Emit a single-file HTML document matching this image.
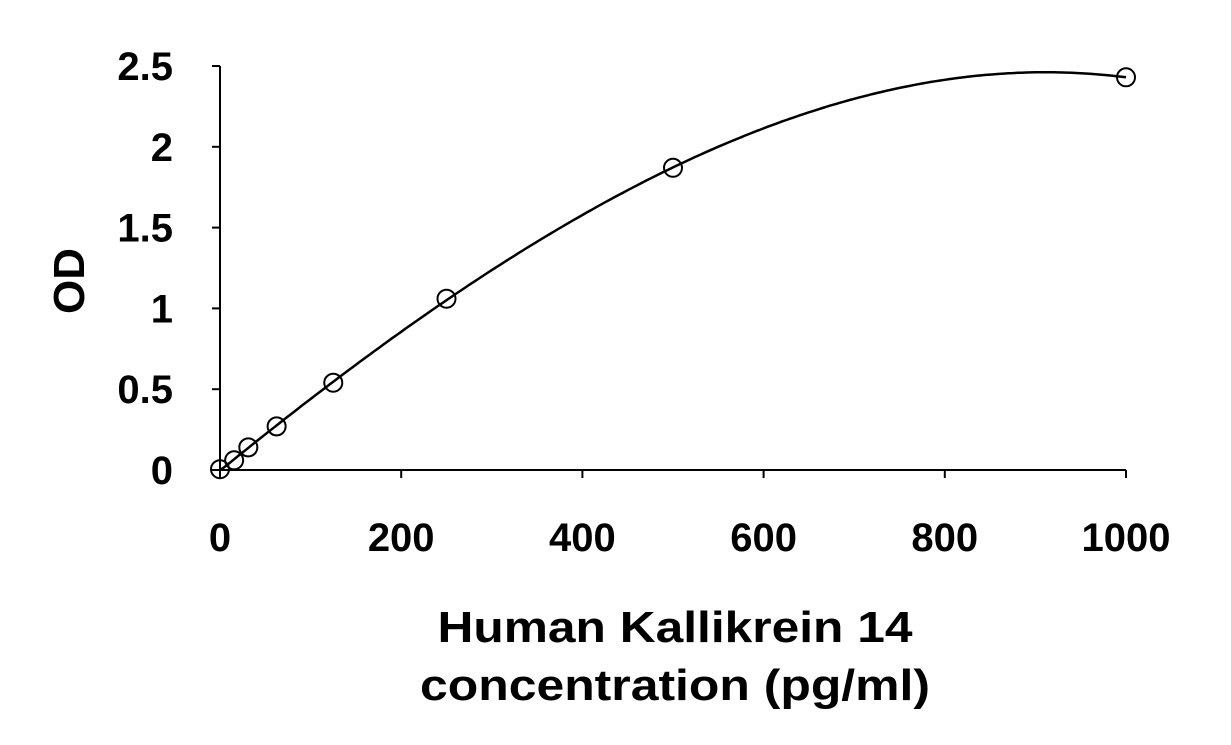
<!DOCTYPE html>
<html><head><meta charset="utf-8"><style>
body{margin:0;background:#fff;}
svg{display:block;font-family:"Liberation Sans",sans-serif;font-weight:bold;}
</style></head><body>
<svg id="chart" width="1231" height="745"></svg>
<script>
const xTicks=[0,200,400,600,800,1000];
const yTicks=[0,0.5,1,1.5,2,2.5];
const yTickLabels=["0","0.5","1","1.5","2","2.5"];
const concentrations=[0,15.6,31.25,62.5,125,250,500,1000];
const odValues=[0.005,0.06,0.14,0.27,0.54,1.06,1.87,2.43];
const NS="http://www.w3.org/2000/svg";
const svg=document.getElementById('chart');
const X=v=>220+v*(1126-220)/1000;
const Y=v=>470-v*(470-66)/2.5;
function mk(t,a,txt){const e=document.createElementNS(NS,t);for(const k in a)e.setAttribute(k,a[k]);if(txt!==undefined)e.textContent=txt;svg.appendChild(e);return e;}
let e;
e=mk('line',{x1:X(0),y1:Y(0),x2:X(1000),y2:Y(0),stroke:'#000','stroke-width':2});


e=mk('line',{x1:X(0),y1:Y(0),x2:X(0),y2:Y(2.5),stroke:'#000','stroke-width':2});


xTicks.forEach(v=>{
 e=mk('line',{x1:X(v),y1:Y(0),x2:X(v),y2:Y(0)+8,stroke:'#000','stroke-width':2});
 
 
 e=mk('text',{x:X(v),y:551,'text-anchor':'middle','font-size':40},String(v));
 
 
});
yTicks.forEach((v,i)=>{
 e=mk('line',{x1:X(0)-8,y1:Y(v),x2:X(0),y2:Y(v),stroke:'#000','stroke-width':2});
 
 
 e=mk('text',{x:173,y:Y(v)+14,'text-anchor':'end','font-size':40},yTickLabels[i]);
 
 
});
// least-squares cubic fit of the data
function fitCubic(xs,ys){
 const n=4,A=[...Array(n)].map(()=>Array(n+1).fill(0));
 xs.forEach((x0,k)=>{const x=x0/1000;for(let i=0;i<n;i++){for(let j=0;j<n;j++)A[i][j]+=Math.pow(x,i+j);A[i][n]+=ys[k]*Math.pow(x,i);}});
 for(let i=0;i<n;i++){let p=i;for(let r=i+1;r<n;r++)if(Math.abs(A[r][i])>Math.abs(A[p][i]))p=r;[A[i],A[p]]=[A[p],A[i]];
  for(let r=0;r<n;r++)if(r!==i){const f=A[r][i]/A[i][i];for(let c=i;c<=n;c++)A[r][c]-=f*A[i][c];}}
 return A.map((r,i)=>r[n]/r[i]);
}
const coef=fitCubic(concentrations,odValues);
const f=c=>{const x=c/1000;return coef[0]+coef[1]*x+coef[2]*x*x+coef[3]*x*x*x;};
let d='';
for(let c=0;c<=1000;c+=5){d+=(c?'L':'M')+X(c).toFixed(1)+','+Y(Math.max(0,f(c))).toFixed(1);}
e=mk('path',{d:d,fill:'none',stroke:'#000','stroke-width':2.5});


concentrations.forEach((c,i)=>{
 e=mk('circle',{cx:X(c),cy:Y(odValues[i]),r:9,fill:'none',stroke:'#000','stroke-width':2});
 
 
});
e=mk('text',{x:0,y:0,'font-size':44,'text-anchor':'middle',transform:'translate(84,281) rotate(-90)'},'OD');


e=mk('text',{x:675,y:642,'font-size':44,'text-anchor':'middle',textLength:475,lengthAdjust:'spacingAndGlyphs'},'Human Kallikrein 14');


e=mk('text',{x:675,y:700,'font-size':44,'text-anchor':'middle',textLength:510,lengthAdjust:'spacingAndGlyphs'},'concentration (pg/ml)');


</script>
</body></html>
